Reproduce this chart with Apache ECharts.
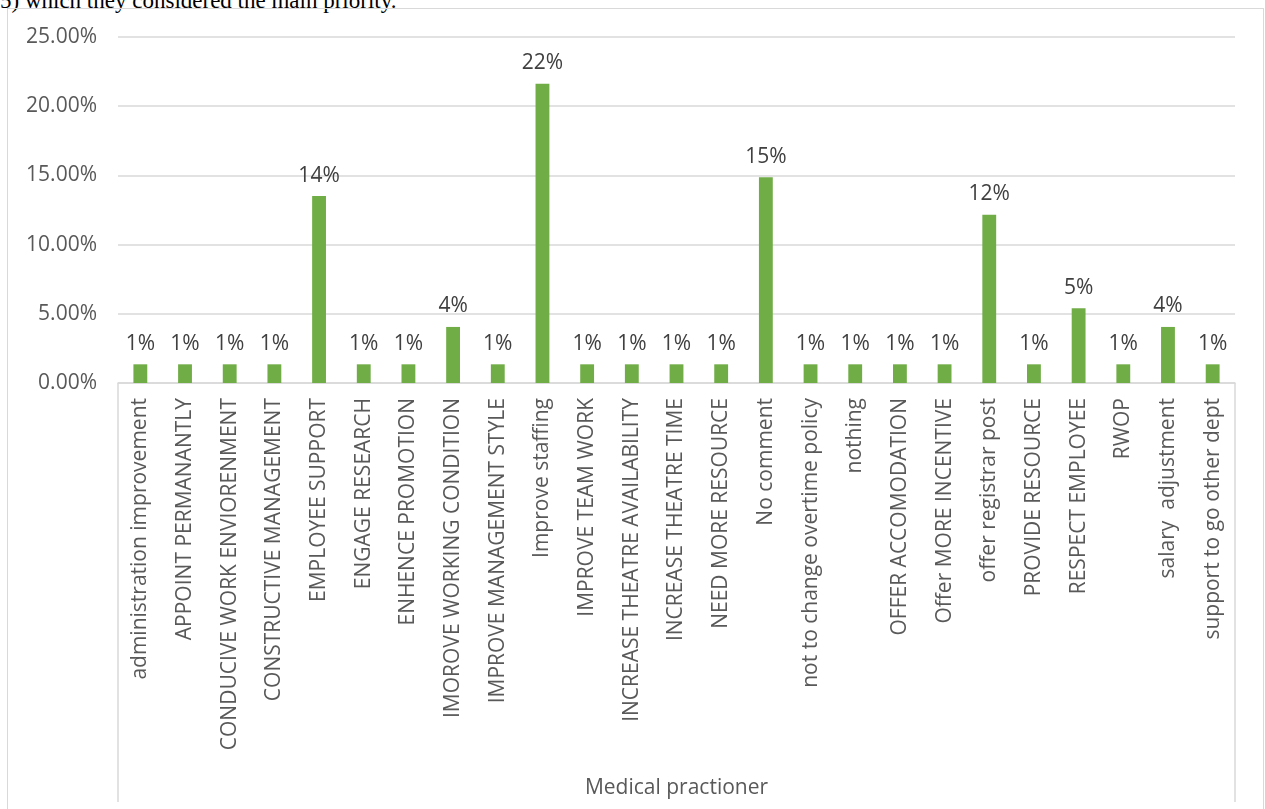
<!DOCTYPE html>
<html>
<head>
<meta charset="utf-8">
<script src="https://cdn.jsdelivr.net/npm/echarts@6/dist/echarts.min.js"></script>
<style>
    html, body { margin: 0; padding: 0; background: #fff; overflow: hidden; }
    #caption {
        position: absolute; left: 0; top: -11px;
        font-family: "Liberation Serif", serif; font-size: 23px; line-height: 23px;
        color: #000; white-space: nowrap;
    }
    #chart {
        position: absolute; left: 7px; top: 8px;
        width: 1255px; height: 810px;
        border: 1px solid #d9d9d9;
    }
</style>
</head>
<body>
<div id="caption">5) which they considered the main priority.</div>
<div id="chart"></div>
<script>
    // categories (inner level) and the outer group label
    const categories = [
        'administration improvement', 'APPOINT PERMANANTLY', 'CONDUCIVE WORK ENVIORENMENT',
        'CONSTRUCTIVE MANAGEMENT', 'EMPLOYEE SUPPORT', 'ENGAGE RESEARCH', 'ENHENCE PROMOTION',
        'IMOROVE WORKING CONDITION', 'IMPROVE MANAGEMENT STYLE', 'Improve staffing',
        'IMPROVE TEAM WORK', 'INCREASE THEATRE AVAILABILITY', 'INCREASE THEATRE TIME',
        'NEED MORE RESOURCE', 'No comment', 'not to change overtime policy', 'nothing',
        'OFFER ACCOMODATION', 'Offer MORE INCENTIVE', 'offer registrar post', 'PROVIDE RESOURCE',
        'RESPECT EMPLOYEE', 'RWOP', 'salary  adjustment', 'support to go other dept'
    ];
    const groupLabels = ['Medical practioner'];

    // share of answers, in percent
    const shares = [
        1.35, 1.35, 1.35, 1.35, 13.51, 1.35, 1.35, 4.05, 1.35, 21.62,
        1.35, 1.35, 1.35, 1.35, 14.86, 1.35, 1.35, 1.35, 1.35, 12.16,
        1.35, 5.41, 1.35, 4.05, 1.35
    ];

    const yTicks = [0, 5, 10, 15, 20, 25];

    const font = '"Open Sans", sans-serif';
    const chart = echarts.init(document.getElementById('chart'));

    chart.setOption({
        animation: false,
        grid: { left: 110, right: 28, top: 28, height: 346 },
        xAxis: [
            {
                type: 'category',
                data: categories,
                axisLine: { lineStyle: { color: '#d9d9d9', width: 1.5 } },
                axisTick: { show: false },
                axisLabel: {
                    interval: 0, rotate: 90, margin: 15,
                    color: '#595959', fontSize: 21, fontFamily: font
                }
            },
            {
                // outer level of the category axis: a box with the group name
                type: 'category',
                data: groupLabels,
                position: 'bottom',
                axisLine: { show: false },
                axisTick: { show: true, length: 419, lineStyle: { color: '#d9d9d9', width: 1.5 } },
                axisLabel: { margin: 395, color: '#595959', fontSize: 21, fontFamily: font },
                splitLine: { show: false }
            }
        ],
        yAxis: {
            type: 'value',
            min: yTicks[0],
            max: yTicks[yTicks.length - 1],
            interval: 5,
            axisLine: { show: false },
            axisTick: { show: false },
            splitLine: { lineStyle: { color: '#d9d9d9', width: 1.5 } },
            axisLabel: {
                margin: 21, color: '#595959', fontSize: 21, fontFamily: font,
                formatter: v => v.toFixed(2) + '%'
            }
        },
        series: [{
            type: 'bar',
            data: shares,
            barWidth: '31%',
            itemStyle: { color: '#70ad47' },
            label: {
                show: true, position: 'top', distance: 10,
                color: '#404040', fontSize: 21, fontFamily: font,
                formatter: p => Math.round(p.value) + '%'
            }
        }]
    });
</script>
</body>
</html>
